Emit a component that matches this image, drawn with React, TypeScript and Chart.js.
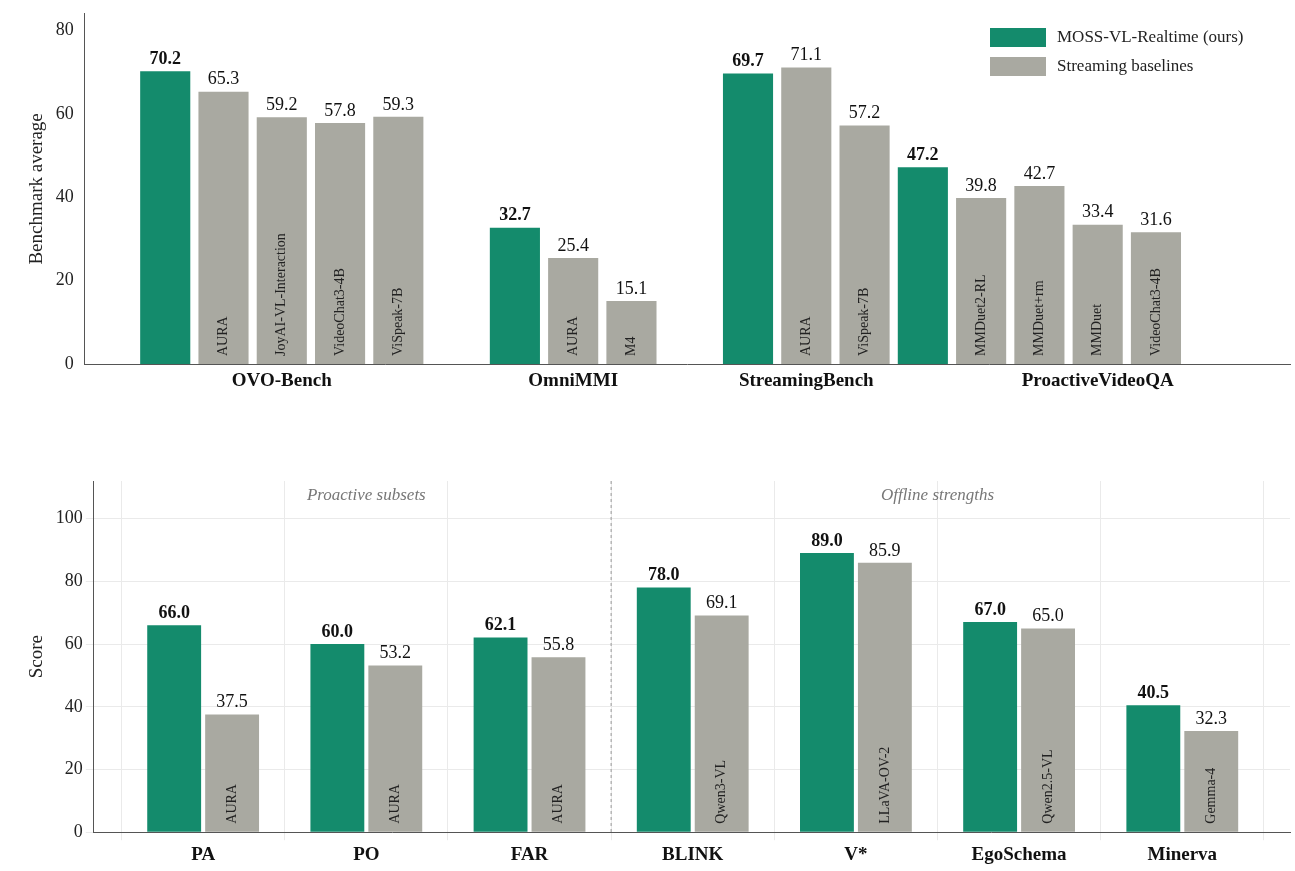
import React, { useEffect, useRef } from "react";
import { Chart, registerables } from "chart.js";
Chart.register(...registerables);

const GREEN = "#148b6c";
const GRAY = "#a9a9a1";
const FONT = "'Liberation Serif', 'DejaVu Serif', serif";

// Top chart: slot index positions
const topGreenX = [0, 6, 10, 13];
const topGreenY = [70.2, 32.7, 69.7, 47.2];
const topGrayX = [1, 2, 3, 4, 7, 8, 11, 12, 14, 15, 16, 17];
const topGrayY = [65.3, 59.2, 57.8, 59.3, 25.4, 15.1, 71.1, 57.2, 39.8, 42.7, 33.4, 31.6];
const topGrayNames = ["AURA", "JoyAI-VL-Interaction", "VideoChat3-4B", "ViSpeak-7B", "AURA", "M4", "AURA", "ViSpeak-7B", "MMDuet2-RL", "MMDuet+rm", "MMDuet", "VideoChat3-4B"];
const topGroups = ["OVO-Bench", "OmniMMI", "StreamingBench", "ProactiveVideoQA"];
const topGroupX = [2, 7, 11, 16];

// Bottom chart
const botCats = ["PA", "PO", "FAR", "BLINK", "V*", "EgoSchema", "Minerva"];
const botGreen = [66.0, 60.0, 62.1, 78.0, 89.0, 67.0, 40.5];
const botGray = [37.5, 53.2, 55.8, 69.1, 85.9, 65.0, 32.3];
const botGrayNames = ["AURA", "AURA", "AURA", "Qwen3-VL", "LLaVA-OV-2", "Qwen2.5-VL", "Gemma-4"];

function labelPlugin(names: string[]) {
  return {
    id: "lbl",
    afterDatasetsDraw(chart: any) {
      const ctx = chart.ctx;
      ctx.save();
      chart.data.datasets.forEach((ds: any, di: number) => {
        const meta = chart.getDatasetMeta(di);
        meta.data.forEach((bar: any, i: number) => {
          const v = typeof ds.data[i] === "object" ? ds.data[i].y : ds.data[i];
          ctx.fillStyle = "#111";
          ctx.textAlign = "center";
          ctx.textBaseline = "bottom";
          ctx.font = (di === 0 ? "bold " : "") + "18px " + FONT;
          ctx.fillText(v.toFixed(1), bar.x, bar.y - 3);
          if (di === 1) {
            ctx.save();
            ctx.translate(bar.x, bar.base - 8);
            ctx.rotate(-Math.PI / 2);
            ctx.textAlign = "left";
            ctx.textBaseline = "middle";
            ctx.font = "14px " + FONT;
            ctx.fillStyle = "#222";
            ctx.fillText(names[i], 0, 0);
            ctx.restore();
          }
        });
      });
      ctx.restore();
    },
  };
}

export default function App() {
  const r1 = useRef<HTMLCanvasElement>(null);
  const r2 = useRef<HTMLCanvasElement>(null);
  useEffect(() => {
    Chart.defaults.font.family = FONT;
    const c1 = new Chart(r1.current!, {
      type: "bar",
      data: {
        datasets: [
          { label: "MOSS-VL-Realtime (ours)", data: topGreenX.map((x, i) => ({ x, y: topGreenY[i] })), backgroundColor: GREEN },
          { label: "Streaming baselines", data: topGrayX.map((x, i) => ({ x, y: topGrayY[i] })), backgroundColor: GRAY },
        ],
      },
      options: {
        animation: false, responsive: false,
        layout: { padding: { top: 10, bottom: 58, right: 5, left: 22 } },
        datasets: { bar: { grouped: false, barPercentage: 0.86, categoryPercentage: 1 } },
        plugins: { legend: { display: false }, tooltip: { enabled: false } },
        scales: {
          x: { type: "linear", offset: false, min: -1.38, max: 19.3, grid: { display: false }, ticks: { display: false }, border: { color: "#555" } },
          y: { min: 0, max: 84, grid: { display: false }, border: { color: "#555" },
            afterBuildTicks: (s: any) => { s.ticks = [0, 20, 40, 60, 80].map((v) => ({ value: v })); },
            ticks: { color: "#222", font: { size: 18 } },
            title: { display: true, text: "Benchmark average", color: "#222", font: { size: 19 } } },
        },
      },
      plugins: [labelPlugin(topGrayNames), {
        id: "extra",
        afterDraw(chart: any) {
          const ctx = chart.ctx; const xs = chart.scales.x; const ya = chart.chartArea;
          ctx.save();
          ctx.font = "bold 19px " + FONT; ctx.fillStyle = "#111"; ctx.textAlign = "center"; ctx.textBaseline = "top";
          topGroups.forEach((g, i) => ctx.fillText(g, xs.getPixelForValue(topGroupX[i]), ya.bottom + 8));
          const items = [["MOSS-VL-Realtime (ours)", GREEN], ["Streaming baselines", GRAY]];
          ctx.font = "17px " + FONT; ctx.textAlign = "left"; ctx.textBaseline = "middle";
          items.forEach(([t, c], i) => {
            ctx.fillStyle = c; ctx.fillRect(990, 28 + i * 29, 56, 19);
            ctx.fillStyle = "#222"; ctx.fillText(t, 1057, 38 + i * 29);
          });
          ctx.restore();
        },
      }],
    } as any);
    const c2 = new Chart(r2.current!, {
      type: "bar",
      data: {
        datasets: [
          { label: "g", data: botGreen.map((y, i) => ({ x: i, y })), backgroundColor: GREEN },
          { label: "b", data: botGray.map((y, i) => ({ x: i, y })), backgroundColor: GRAY },
        ],
      },
      options: {
        animation: false, responsive: false,
        layout: { padding: { top: 51, bottom: 2, right: 5, left: 22 } },
        datasets: { bar: { barPercentage: 0.93, categoryPercentage: 0.71 } },
        plugins: { legend: { display: false }, tooltip: { enabled: false } },
        scales: {
          x: { type: "linear", offset: false, min: -0.67, max: 6.66, grid: { color: "#eaeaea" }, border: { color: "#555" },
            afterBuildTicks: (s: any) => { s.ticks = botCats.map((_, i) => ({ value: i })); },
            ticks: { autoSkip: false, color: "#111", font: { size: 19, weight: "bold" }, callback: (v: any) => botCats[v] ?? "" } },
          y: { min: 0, max: 112, grid: { color: "#eaeaea" }, border: { color: "#555" },
            afterBuildTicks: (s: any) => { s.ticks = [0, 20, 40, 60, 80, 100].map((v) => ({ value: v })); },
            ticks: { color: "#222", font: { size: 18 } },
            title: { display: true, text: "Score", color: "#222", font: { size: 19 } } },
        },
      },
      plugins: [labelPlugin(botGrayNames), {
        id: "sep",
        afterDatasetsDraw(chart: any) {
          const ctx = chart.ctx; const xs = chart.scales.x; const a = chart.chartArea;
          const sx = xs.getPixelForValue(2.5);
          ctx.save();
          ctx.strokeStyle = "#999"; ctx.setLineDash([3, 3]); ctx.lineWidth = 1;
          ctx.beginPath(); ctx.moveTo(sx, a.top); ctx.lineTo(sx, a.bottom); ctx.stroke();
          ctx.font = "italic 17px " + FONT; ctx.fillStyle = "#777"; ctx.textAlign = "center"; ctx.textBaseline = "middle";
          ctx.fillText("Proactive subsets", xs.getPixelForValue(1), a.top + 15);
          ctx.fillText("Offline strengths", xs.getPixelForValue(4.5), a.top + 15);
          ctx.restore();
        },
      }],
    } as any);
    return () => { c1.destroy(); c2.destroy(); };
  }, []);
  return (
    <div style={{ position: "absolute", left: 0, top: 0, width: 1295, height: 871, background: "#fff" }}>
      <canvas ref={r1} width={1295} height={430} style={{ position: "absolute", left: 0, top: 0 }} />
      <canvas ref={r2} width={1295} height={441} style={{ position: "absolute", left: 0, top: 430 }} />
    </div>
  );
}
